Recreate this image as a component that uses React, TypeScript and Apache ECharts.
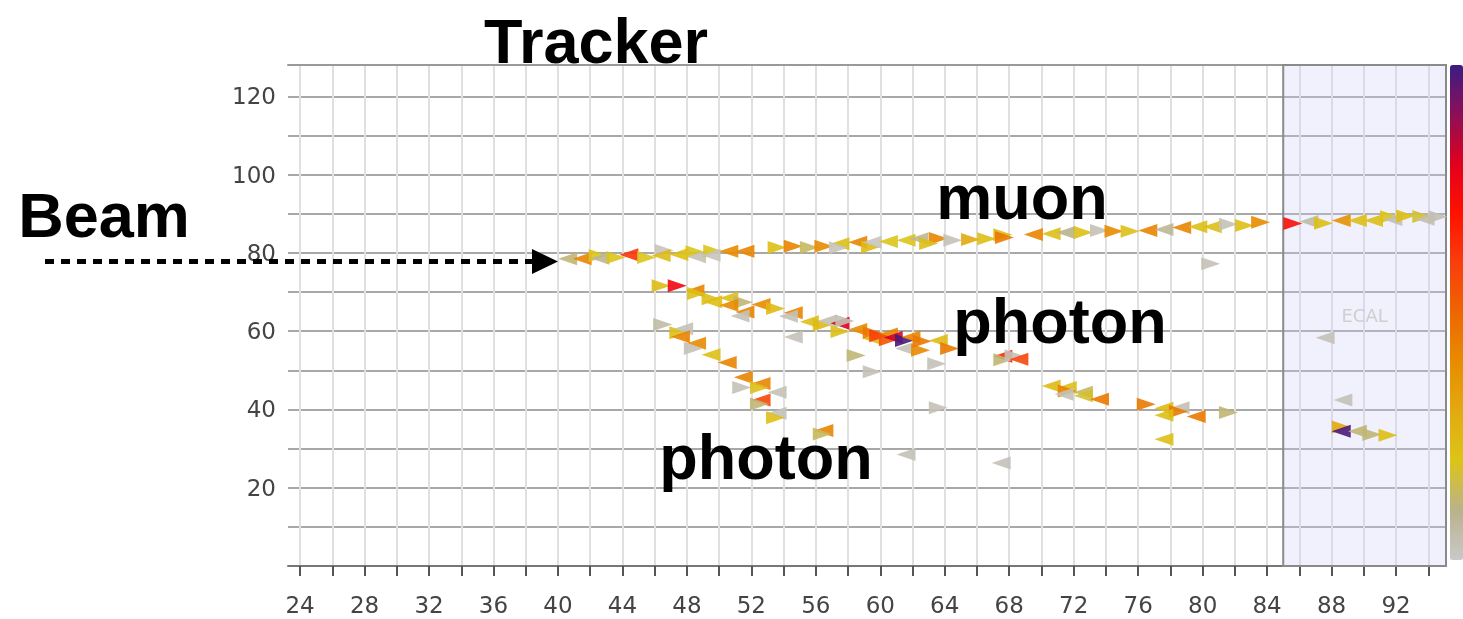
import React, { useEffect, useRef } from "react";
import * as echarts from "echarts";

// hit = [x, y, energy, direction]  (direction: -1 apex left, 1 apex right)
type Hit = [number, number, number, number];

const muonHits: Hit[] = [
  [40.6, 78.5, 12, -1], [41.5, 78.5, 42, -1], [42.5, 79.3, 20, 1], [42.6, 78.6, 8, -1],
  [43.6, 78.8, 20, 1], [44.4, 79.5, 62, -1], [45.5, 78.8, 20, 1], [46.6, 80.6, 2, 1],
  [46.4, 79.3, 24, -1], [47.5, 79.6, 22, -1], [48.5, 80.3, 20, 1], [48.6, 79.0, 3, -1],
  [49.6, 80.5, 20, 1], [49.5, 79.4, 2, -1], [50.6, 80.4, 40, -1], [51.6, 80.4, 42, -1],
  [53.6, 81.4, 22, 1], [54.6, 81.7, 42, 1], [55.6, 81.4, 14, 1], [56.5, 81.7, 40, 1],
  [57.5, 82.3, 22, -1], [57.4, 81.3, 2, 1], [58.6, 82.7, 42, -1], [59.4, 81.5, 24, 1],
  [59.5, 82.7, 2, -1], [60.5, 82.9, 20, -1], [61.6, 83.2, 20, -1], [62.4, 83.6, 8, -1],
  [63.6, 83.7, 42, 1], [63.0, 82.4, 22, 1], [64.5, 83.2, 3, 1], [65.6, 83.4, 30, 1],
  [66.6, 83.6, 22, 1], [67.6, 84.6, 24, 1], [67.7, 83.9, 45, 1], [69.5, 84.7, 42, -1],
  [70.6, 84.9, 22, -1], [71.5, 85.2, 10, -1], [72.6, 85.2, 22, 1], [73.6, 85.7, 3, 1],
  [74.5, 85.5, 40, 1], [75.5, 85.5, 22, 1], [76.6, 85.7, 42, -1], [77.6, 86.0, 8, -1],
  [78.7, 86.5, 42, -1], [79.7, 86.7, 22, -1], [80.6, 86.7, 22, -1], [81.6, 87.3, 3, 1],
  [82.6, 87.0, 22, 1], [83.6, 87.8, 40, 1], [85.6, 87.5, 72, 1], [86.6, 88.0, 6, -1],
  [87.5, 87.6, 22, 1], [88.6, 88.3, 38, -1], [89.6, 88.3, 22, -1], [90.6, 88.3, 22, -1],
  [91.6, 89.2, 20, 1], [91.8, 88.5, 4, -1], [92.6, 89.4, 22, 1], [93.6, 89.3, 18, 1],
  [93.8, 88.6, 4, -1], [94.6, 89.2, 4, 1],
];

const upperPhotonHits: Hit[] = [
  [46.4, 71.6, 24, 1], [47.4, 71.6, 76, 1], [48.5, 70.3, 42, -1], [48.6, 69.6, 22, 1],
  [49.5, 68.3, 22, 1], [49.6, 67.5, 22, -1], [50.6, 68.5, 22, -1], [51.5, 67.4, 12, 1],
  [50.6, 66.6, 40, -1], [52.6, 66.8, 40, -1], [53.5, 65.8, 24, 1], [51.6, 64.9, 42, -1],
  [51.3, 63.9, 3, -1], [54.6, 64.7, 42, -1], [54.3, 63.8, 3, -1], [55.6, 62.4, 22, -1],
  [56.4, 61.6, 24, 1], [56.7, 62.6, 4, -1], [57.5, 62.0, 80, -1], [57.8, 62.6, 4, 1],
  [57.5, 59.9, 22, 1], [58.6, 60.4, 40, -1], [59.5, 59.6, 45, 1], [59.5, 58.1, 24, -1],
  [59.9, 58.8, 60, 1], [60.5, 59.3, 42, -1], [60.5, 57.8, 55, 1], [60.8, 58.4, 82, -1],
  [61.5, 57.6, 98, 1], [61.9, 58.5, 42, -1], [61.5, 55.6, 3, -1], [62.5, 55.1, 40, 1],
  [62.6, 57.4, 45, 1], [63.6, 57.6, 24, -1], [64.3, 55.6, 45, 1],
  [67.6, 53.6, 65, -1], [67.6, 52.7, 12, 1], [68.3, 53.7, 3, 1], [68.6, 52.8, 58, -1],
  [70.6, 46.0, 24, -1], [71.6, 45.6, 22, -1], [71.6, 44.7, 42, 1], [71.4, 43.9, 3, -1],
  [72.6, 44.4, 14, -1], [72.6, 43.5, 18, -1], [73.6, 42.6, 45, -1], [76.5, 41.3, 45, 1],
  [77.6, 40.3, 24, -1], [78.6, 40.4, 4, -1], [78.5, 39.5, 45, 1], [77.6, 38.5, 22, -1],
  [79.6, 38.2, 45, -1], [81.6, 39.2, 12, 1], [77.6, 32.4, 22, -1],
  [88.6, 35.5, 30, 1], [88.6, 34.4, 98, -1], [89.6, 34.4, 12, -1], [90.5, 33.6, 12, 1],
  [91.5, 33.4, 22, 1],
];

const lowerPhotonHits: Hit[] = [
  [46.5, 61.7, 6, 1], [47.5, 59.6, 22, 1], [47.8, 60.6, 3, -1], [47.6, 58.6, 42, -1],
  [48.6, 56.9, 40, -1], [48.4, 55.6, 3, 1], [49.5, 54.0, 22, -1], [50.5, 52.0, 42, -1],
  [51.5, 48.2, 42, -1], [52.6, 46.6, 42, -1], [52.5, 45.6, 22, 1], [51.4, 45.6, 3, 1],
  [53.6, 44.4, 3, -1], [52.6, 42.4, 58, -1], [52.5, 41.4, 12, 1], [53.6, 39.0, 3, -1],
  [53.5, 37.9, 22, 1], [56.5, 34.6, 42, -1], [56.4, 33.7, 14, 1],
];

const noiseHits: Hit[] = [
  [54.6, 58.5, 3, -1], [58.5, 53.8, 12, 1], [59.5, 49.6, 3, 1], [63.5, 51.7, 3, 1],
  [63.6, 40.4, 3, 1], [61.6, 28.5, 3, -1], [67.5, 26.3, 3, -1], [80.5, 77.2, 3, 1],
  [87.6, 58.3, 3, -1], [88.7, 42.4, 3, -1],
];

const xTicks = [24, 26, 28, 30, 32, 34, 36, 38, 40, 42, 44, 46, 48, 50, 52, 54, 56, 58, 60,
  62, 64, 66, 68, 70, 72, 74, 76, 78, 80, 82, 84, 86, 88, 90, 92, 94];
const xLabels = [24, 28, 32, 36, 40, 44, 48, 52, 56, 60, 64, 68, 72, 76, 80, 84, 88, 92];
const yLabels = [20, 40, 60, 80, 100, 120];
const xRange = [23.25, 95.1];
const yRange = [0, 128];
const ecalRange = [85, 95.1];
const energyRange = [0, 100];
const energyColors = ["#c9c9c9", "#b9b28c", "#dcc418", "#e2aa10", "#e88c00", "#ee6600",
  "#f93e0c", "#ff1200", "#e2001c", "#8c0f58", "#3b1c84"];

const toData = (hits: Hit[]) =>
  hits.map(([x, y, e, d]) => ({ value: [x, y, e], symbolRotate: d < 0 ? 90 : -90 }));

const FONT = "DejaVu Sans";
const BIG = 'bold 63px "Liberation Sans", Arial, sans-serif';

function bigText(text: string, x: number, y: number) {
  return {
    type: "text",
    x,
    y,
    z: 100,
    style: {
      text,
      font: BIG,
      fill: "#000",
      align: "center",
      verticalAlign: "middle",
      textAlign: "center",
      textVerticalAlign: "middle",
    },
  };
}

export default function App() {
  const ref = useRef<HTMLDivElement>(null);
  useEffect(() => {
    if (!ref.current) return;
    const chart = echarts.init(ref.current, null, { renderer: "svg" });
    const hitSeries = (name: string, hits: Hit[]) => ({
      name,
      type: "scatter",
      symbol: "triangle",
      symbolSize: [13, 19],
      itemStyle: { opacity: 0.9 },
      data: toData(hits),
    });
    chart.setOption({
      animation: false,
      grid: { left: 288, right: 17, top: 65, bottom: 53 },
      xAxis: [
        {
          type: "value",
          min: xRange[0],
          max: xRange[1],
          axisLine: { show: true, onZero: false, lineStyle: { color: "#777", width: 2 } },
          axisTick: { show: true, customValues: xTicks, length: 10, lineStyle: { color: "#555", width: 2 } },
          axisLabel: { customValues: xLabels, fontSize: 23, color: "#444", fontFamily: FONT, margin: 27 },
          splitLine: { show: true, lineStyle: { color: "#e0e0e0", width: 2 } },
        },
        {
          type: "value",
          position: "top",
          min: xRange[0],
          max: xRange[1],
          axisLine: { show: true, onZero: false, lineStyle: { color: "#999", width: 2 } },
          axisTick: { show: false },
          axisLabel: { show: false },
          splitLine: { show: false },
        },
      ],
      yAxis: {
        type: "value",
        min: yRange[0],
        max: yRange[1],
        interval: 10,
        axisLine: { show: false },
        axisTick: { show: false },
        axisLabel: {
          formatter: (v: number) => (yLabels.includes(v) ? String(v) : ""),
          fontSize: 23,
          color: "#444",
          fontFamily: FONT,
          margin: 12,
        },
        splitLine: { show: true, lineStyle: { color: "#a8a8a8", width: 2 } },
      },
      visualMap: {
        type: "continuous",
        min: energyRange[0],
        max: energyRange[1],
        dimension: 2,
        seriesIndex: [0, 1, 2, 3],
        inRange: { color: energyColors },
        calculable: false,
        hoverLink: false,
        orient: "vertical",
        left: 1450,
        top: 65,
        padding: 0,
        itemWidth: 13,
        itemHeight: 495,
      },
      series: [
        {
          ...hitSeries("muon", muonHits),
          markArea: {
            silent: true,
            itemStyle: { color: "rgba(205,205,250,0.28)", borderColor: "#8a8a8a", borderWidth: 2 },
            label: { show: true, position: "inside", color: "#cfcfcf", fontSize: 18, fontFamily: FONT },
            data: [[
              { name: "ECAL", xAxis: ecalRange[0], yAxis: yRange[0] },
              { xAxis: ecalRange[1], yAxis: yRange[1] },
            ]],
          },
        },
        hitSeries("photon1", upperPhotonHits),
        hitSeries("photon2", lowerPhotonHits),
        hitSeries("noise", noiseHits),
      ],
      graphic: [
        bigText("Tracker", 596, 40.5),
        bigText("Beam", 104, 214.5),
        bigText("muon", 1022, 196.5),
        bigText("photon", 1060, 320.5),
        bigText("photon", 766, 456.5),
        {
          type: "line",
          z: 100,
          shape: { x1: 45, y1: 261.5, x2: 532, y2: 261.5 },
          style: { stroke: "#000", lineWidth: 5, lineDash: [9, 7] },
        },
        {
          type: "polygon",
          z: 100,
          shape: { points: [[532, 249], [558, 261.5], [532, 274]] },
          style: { fill: "#000" },
        },
      ],
    });
    return () => chart.dispose();
  }, []);
  return <div ref={ref} style={{ position: "fixed", left: 0, top: 0, width: 1463, height: 619 }} />;
}
